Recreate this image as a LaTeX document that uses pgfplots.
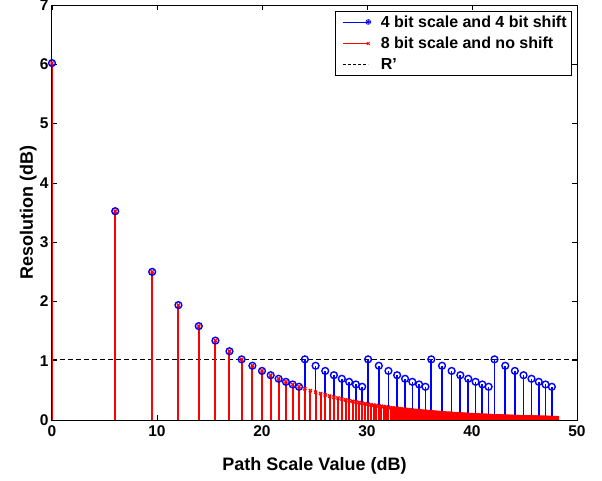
\documentclass[border=0pt]{standalone}
\usepackage{pgfplots}
\pgfplotsset{compat=1.18}
\usepackage{fontspec}
\setmainfont{Liberation Sans}

\begin{document}
\begin{tikzpicture}
\path[use as bounding box] (-52pt,-60pt) rectangle (550pt,420pt);
\begin{axis}[
  at={(0pt,0pt)}, anchor=south west,
  width=525pt, height=415pt, scale only axis,
  xmin=0, xmax=50, ymin=0, ymax=7,
  xtick={0,10,...,50}, ytick={0,1,...,7},
  tick align=inside, major tick length=5pt,
  every tick/.style={black, line width=0.6pt},
  axis line style={black, line width=1pt},
  /pgf/number format/assume math mode=true,
  tick label style={font=\fontsize{15.5}{18}\selectfont\bfseries},
  xticklabel style={yshift=-2pt},
  label style={font=\fontsize{18}{21}\selectfont\bfseries},
  xlabel={Path Scale Value (dB)},
  ylabel={Resolution (dB)},
  xlabel style={at={(axis description cs:0.5,-0.1205)}, anchor=base},
  ylabel style={at={(axis description cs:-0.0362,0.5)}, anchor=base},
  legend cell align=left,
  legend style={at={(axis description cs:0.9905,0.9855)}, anchor=north east,
    draw=black, line width=0.8pt, fill=white,
    font=\fontsize{16}{19}\selectfont\bfseries,
    inner xsep=3pt, inner ysep=2pt, row sep=4.5pt,
    nodes={inner sep=2pt},
    /tikz/every odd column/.append style={column sep=6.5pt}},
]
% threshold R'
\addplot[black, line width=1pt, dash pattern=on 5pt off 3pt, forget plot]
  coordinates {(0,1.0231) (50,1.0231)};

% 4 bit scale and 4 bit shift
\addplot[blue, ycomb, line width=1.7pt, mark=o, mark size=3.4pt,
  mark options={line width=1.4pt},
  legend image code/.code={
    \path (-4pt,0pt) (28pt,0pt);
    \draw[blue, line width=0.6pt] (0pt,0pt) -- (25pt,0pt);
    \draw[blue, line width=0.7pt] (25pt,0pt) circle (2.4pt);
    \fill[blue] (25pt,0pt) circle (0.6pt);}]
coordinates {
  (0,6.0206) (6.0206,3.5218) (9.5424,2.4988) (12.0412,1.9382) (13.9794,1.5836)
  (15.5630,1.3390) (16.9020,1.1598) (18.0618,1.0231) (19.0849,0.9151) (20,0.8279)
  (20.8279,0.7558) (21.5836,0.6953) (22.2789,0.6437) (22.9226,0.5993) (23.5218,0.5606)
  (24.0824,1.0231) (25.1055,0.9151) (26.0206,0.8279) (26.8485,0.7558)
  (27.6042,0.6953) (28.2995,0.6437) (28.9432,0.5993) (29.5424,0.5606)
  (30.1030,1.0231) (31.1261,0.9151) (32.0412,0.8279) (32.8691,0.7558)
  (33.6248,0.6953) (34.3201,0.6437) (34.9638,0.5993) (35.5630,0.5606)
  (36.1236,1.0231) (37.1467,0.9151) (38.0618,0.8279) (38.8897,0.7558)
  (39.6454,0.6953) (40.3407,0.6437) (40.9844,0.5993) (41.5836,0.5606)
  (42.1442,1.0231) (43.1673,0.9151) (44.0824,0.8279) (44.9103,0.7558)
  (45.6660,0.6953) (46.3613,0.6437) (47.0050,0.5993) (47.6042,0.5606)
};
\addlegendentry{4 bit scale and 4 bit shift}

% 8 bit scale and no shift
\addplot[red, ycomb, line width=2pt, mark=x, mark size=2.2pt,
  mark options={line width=1.3pt},
  legend image code/.code={
    \path (-4pt,0pt) (28pt,0pt);
    \draw[red, line width=0.6pt] (0pt,0pt) -- (25pt,0pt);
    \draw[red, line width=0.9pt] (23.6pt,-1.4pt) -- (26.4pt,1.4pt)
      (23.6pt,1.4pt) -- (26.4pt,-1.4pt);}]
coordinates {
  (0,6.021) (6.021,3.522) (9.542,2.499) (12.041,1.938) (13.979,1.584)
  (15.563,1.339) (16.902,1.160) (18.062,1.023) (19.085,0.915) (20.000,0.828)
  (20.828,0.756) (21.584,0.695) (22.279,0.644) (22.923,0.599) (23.522,0.561)
  (24.082,0.527) (24.609,0.496) (25.106,0.470) (25.575,0.446) (26.021,0.424)
  (26.444,0.404) (26.849,0.386) (27.235,0.370) (27.604,0.355) (27.959,0.341)
  (28.300,0.328) (28.627,0.316) (28.943,0.305) (29.248,0.295) (29.542,0.285)
  (29.827,0.276) (30.103,0.267) (30.370,0.259) (30.630,0.252) (30.881,0.245)
  (31.126,0.238) (31.364,0.232) (31.596,0.226) (31.821,0.220) (32.041,0.215)
  (32.256,0.209) (32.465,0.204) (32.669,0.200) (32.869,0.195) (33.064,0.191)
  (33.255,0.187) (33.442,0.183) (33.625,0.179) (33.804,0.175) (33.979,0.172)
  (34.151,0.169) (34.320,0.165) (34.486,0.162) (34.648,0.159) (34.807,0.157)
  (34.964,0.154) (35.118,0.151) (35.269,0.148) (35.417,0.146) (35.563,0.144)
  (35.707,0.141) (35.848,0.139) (35.987,0.137) (36.124,0.135) (36.258,0.133)
  (36.391,0.131) (36.522,0.129) (36.650,0.127) (36.777,0.125) (36.902,0.123)
  (37.025,0.121) (37.147,0.120) (37.267,0.118) (37.385,0.117) (37.501,0.115)
  (37.616,0.114) (37.730,0.112) (37.842,0.111) (37.953,0.109) (38.062,0.108)
  (38.170,0.107) (38.276,0.105) (38.382,0.104) (38.486,0.103) (38.588,0.102)
  (38.690,0.100) (38.790,0.099) (38.890,0.098) (38.988,0.097) (39.085,0.096)
  (39.181,0.095) (39.276,0.094) (39.370,0.093) (39.463,0.092) (39.555,0.091)
  (39.645,0.090) (39.735,0.089) (39.825,0.088) (39.913,0.087) (40.000,0.086)
  (40.086,0.086) (40.172,0.085) (40.257,0.084) (40.341,0.083) (40.424,0.082)
  (40.506,0.082) (40.588,0.081) (40.669,0.080) (40.749,0.079) (40.828,0.079)
  (40.906,0.078) (40.984,0.077) (41.062,0.077) (41.138,0.076) (41.214,0.075)
  (41.289,0.075) (41.364,0.074) (41.438,0.073) (41.511,0.073) (41.584,0.072)
  (41.656,0.072) (41.727,0.071) (41.798,0.070) (41.868,0.070) (41.938,0.069)
  (42.007,0.069) (42.076,0.068) (42.144,0.068) (42.212,0.067) (42.279,0.067)
  (42.345,0.066) (42.412,0.066) (42.477,0.065) (42.542,0.065) (42.607,0.064)
  (42.671,0.064) (42.734,0.063) (42.798,0.063) (42.860,0.062) (42.923,0.062)
  (42.984,0.061) (43.046,0.061) (43.107,0.061) (43.167,0.060) (43.227,0.060)
  (43.287,0.059) (43.346,0.059) (43.405,0.059) (43.464,0.058) (43.522,0.058)
  (43.580,0.057) (43.637,0.057) (43.694,0.057) (43.750,0.056) (43.807,0.056)
  (43.863,0.056) (43.918,0.055) (43.973,0.055) (44.028,0.055) (44.082,0.054)
  (44.137,0.054) (44.190,0.054) (44.244,0.053) (44.297,0.053) (44.350,0.053)
  (44.402,0.052) (44.454,0.052) (44.506,0.052) (44.558,0.051) (44.609,0.051)
  (44.660,0.051) (44.711,0.050) (44.761,0.050) (44.811,0.050) (44.861,0.050)
  (44.910,0.049) (44.959,0.049) (45.008,0.049) (45.057,0.048) (45.106,0.048)
  (45.154,0.048) (45.201,0.048) (45.249,0.047) (45.296,0.047) (45.343,0.047)
  (45.390,0.047) (45.437,0.046) (45.483,0.046) (45.529,0.046) (45.575,0.046)
  (45.621,0.045) (45.666,0.045) (45.711,0.045) (45.756,0.045) (45.801,0.044)
  (45.845,0.044) (45.889,0.044) (45.933,0.044) (45.977,0.044) (46.021,0.043)
  (46.064,0.043) (46.107,0.043) (46.150,0.043) (46.193,0.042) (46.235,0.042)
  (46.277,0.042) (46.319,0.042) (46.361,0.042) (46.403,0.041) (46.444,0.041)
  (46.486,0.041) (46.527,0.041) (46.568,0.041) (46.608,0.040) (46.649,0.040)
  (46.689,0.040) (46.729,0.040) (46.769,0.040) (46.809,0.040) (46.848,0.039)
  (46.888,0.039) (46.927,0.039) (46.966,0.039) (47.005,0.039) (47.044,0.038)
  (47.082,0.038) (47.121,0.038) (47.159,0.038) (47.197,0.038) (47.235,0.038)
  (47.272,0.038) (47.310,0.037) (47.347,0.037) (47.384,0.037) (47.421,0.037)
  (47.458,0.037) (47.495,0.037) (47.531,0.036) (47.568,0.036) (47.604,0.036)
  (47.640,0.036) (47.676,0.036) (47.712,0.036) (47.748,0.036) (47.783,0.035)
  (47.819,0.035) (47.854,0.035) (47.889,0.035) (47.924,0.035) (47.959,0.035)
  (47.993,0.035) (48.028,0.034) (48.062,0.034) (48.097,0.034) (48.131,0.034)
};
\addlegendentry{8 bit scale and no shift}

\addlegendimage{legend image code/.code={
  \path (-4pt,0pt) (28pt,0pt);
  \draw[black, line width=0.8pt, dash pattern=on 3pt off 2pt] (0pt,0pt) -- (25pt,0pt);}}
\addlegendentry{R'}
\end{axis}
\end{tikzpicture}
\end{document}
